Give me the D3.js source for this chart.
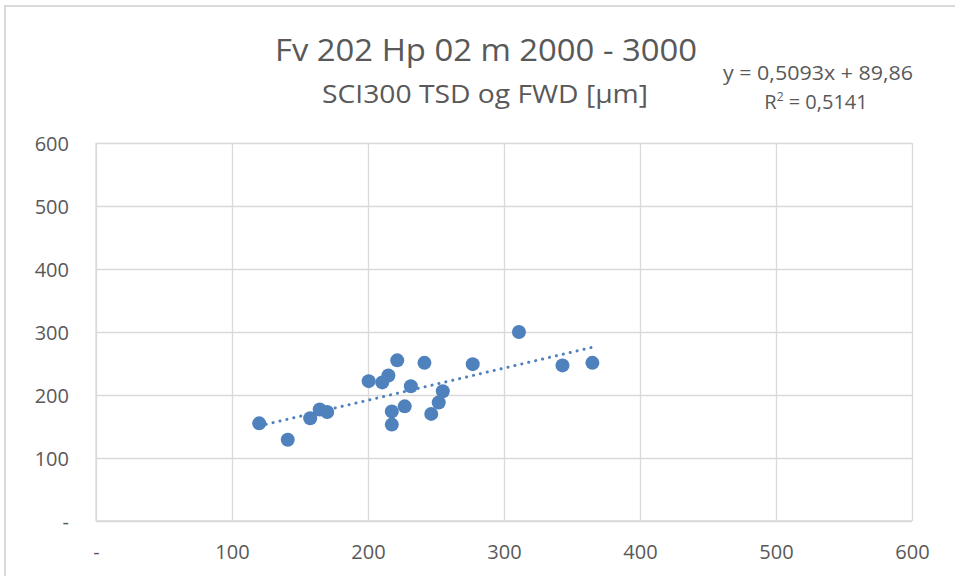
<!DOCTYPE html>
<html>
<head>
<meta charset="utf-8">
<script src="https://cdn.jsdelivr.net/npm/d3@7"></script>
<style>
  html, body { margin: 0; padding: 0; background: #fff; }
  svg { display: block; font-family: "Open Sans", "Noto Sans", sans-serif; }
</style>
</head>
<body>
<svg id="chart" width="955" height="576"></svg>
<script>
// TSD deflection (x) vs FWD deflection (y), µm
const tsdValues = [120, 141, 157.5, 164.5, 170, 200.5, 210.5, 215, 221.5, 217.5, 217.5, 227, 231.5, 241.5, 246.5, 252, 255, 277, 311, 343, 365];
const fwdValues = [155, 129, 163, 177, 173, 222, 220, 231, 255, 174, 153, 182, 214, 251, 170, 188, 206, 249, 300, 247, 251];

const xTicks = [0, 100, 200, 300, 400, 500, 600];
const yTicks = [0, 100, 200, 300, 400, 500, 600];

const trendSlope = 0.5093;
const trendIntercept = 89.86;
const rSquared = 0.5141;

const titleLine1 = "Fv 202 Hp 02 m 2000 - 3000";
const titleLine2 = "SCI300 TSD og FWD [µm]";

const fmt = v => v === 0 ? "-" : String(v);
const fmtComma = v => String(v).replace(".", ",");

const svg = d3.select("#chart");
const grey = "#595959";
const gridColor = "#d9d9d9";
const blue = "#4f81bd";

// chart frame
svg.append("path")
  .attr("d", "M5,576 V6 H955")
  .attr("fill", "none")
  .attr("stroke", "#d9d9d9")
  .attr("stroke-width", 2);

const plot = { left: 96, right: 912, top: 143, bottom: 521 };

const x = d3.scaleLinear().domain([0, 600]).range([plot.left, plot.right]);
const y = d3.scaleLinear().domain([0, 600]).range([plot.bottom, plot.top]);

// gridlines and tick labels
const xAxis = d3.axisBottom(x).tickValues(xTicks).tickSize(-(plot.bottom - plot.top)).tickFormat(fmt).tickPadding(24);
const yAxis = d3.axisLeft(y).tickValues(yTicks).tickSize(-(plot.right - plot.left)).tickFormat(fmt).tickPadding(27);

const gx = svg.append("g").attr("transform", `translate(0,${plot.bottom})`).call(xAxis);
const gy = svg.append("g").attr("transform", `translate(${plot.left},0)`).call(yAxis);

[gx, gy].forEach(g => {
  g.select(".domain").remove();
  g.selectAll(".tick line").attr("stroke", gridColor).attr("stroke-width", 1.3);
  g.selectAll(".tick text")
    .attr("fill", grey)
    .style("font-size", "20px")
    .style("font-family", "'Open Sans', sans-serif");
});
gx.selectAll(".tick text").attr("dy", "0.71em");
gy.selectAll(".tick text").attr("dy", "0.35em");

// plot-area border lines
svg.append("line").attr("x1", plot.left).attr("x2", plot.left).attr("y1", plot.top).attr("y2", plot.bottom)
  .attr("stroke", gridColor).attr("stroke-width", 1.3);
svg.append("line").attr("x1", plot.left).attr("x2", plot.right).attr("y1", plot.bottom).attr("y2", plot.bottom)
  .attr("stroke", gridColor).attr("stroke-width", 1.3);

// data points
const data = tsdValues.map((v, i) => ({ x: v, y: fwdValues[i] }));
svg.append("g").selectAll("circle")
  .data(data)
  .join("circle")
  .attr("cx", d => x(d.x))
  .attr("cy", d => y(d.y))
  .attr("r", 7)
  .attr("fill", blue);

// linear trendline across the data range
const [xmin, xmax] = d3.extent(tsdValues);
const trend = [xmin, xmax].map(v => ({ x: v, y: trendSlope * v + trendIntercept }));
svg.append("path")
  .datum(trend)
  .attr("d", d3.line().x(d => x(d.x)).y(d => y(d.y)))
  .attr("fill", "none")
  .attr("stroke", blue)
  .attr("stroke-width", 3)
  .attr("stroke-linecap", "round")
  .attr("stroke-dasharray", "0.1 7");

// titles
svg.append("text")
  .attr("x", 486).attr("y", 61)
  .attr("text-anchor", "middle")
  .attr("fill", grey)
  .attr("textLength", 422)
  .attr("lengthAdjust", "spacingAndGlyphs")
  .style("font-size", "31px")
  .text(titleLine1);
svg.append("text")
  .attr("x", 485).attr("y", 103)
  .attr("text-anchor", "middle")
  .attr("fill", grey)
  .attr("textLength", 326)
  .attr("lengthAdjust", "spacingAndGlyphs")
  .style("font-size", "25px")
  .text(titleLine2);

// trendline equation
svg.append("text")
  .attr("x", 818).attr("y", 80)
  .attr("text-anchor", "middle")
  .attr("fill", grey)
  .attr("textLength", 190)
  .attr("lengthAdjust", "spacingAndGlyphs")
  .style("font-size", "20px")
  .text(`y = ${fmtComma(trendSlope)}x + ${fmtComma(trendIntercept)}`);
const r2 = svg.append("text")
  .attr("x", 816).attr("y", 109)
  .attr("text-anchor", "middle")
  .attr("fill", grey)
  .style("font-size", "20px");
r2.append("tspan").text("R");
r2.append("tspan").text("2").attr("dy", -8).style("font-size", "12px");
r2.append("tspan").text(` = ${fmtComma(rSquared)}`).attr("dy", 8);
</script>
</body>
</html>
